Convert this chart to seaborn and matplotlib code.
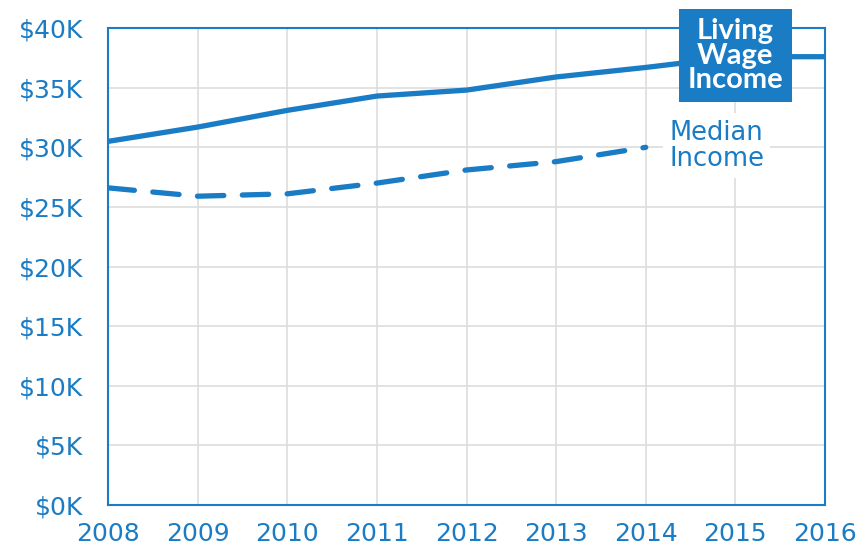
import matplotlib
matplotlib.use("Agg")
import matplotlib.pyplot as plt
import seaborn as sns
import pandas as pd

# data
years = [2008, 2009, 2010, 2011, 2012, 2013, 2014, 2015, 2016]
living_wage = [30.5, 31.7, 33.1, 34.3, 34.8, 35.9, 36.7, 37.6, 37.6]
median_years = [2008, 2009, 2010, 2011, 2012, 2013, 2014]
median_income = [26.6, 25.9, 26.1, 27.0, 28.1, 28.8, 30.0]
y_ticks = [0, 5, 10, 15, 20, 25, 30, 35, 40]

BLUE = "#1a7cc4"

sns.set_theme(style="white")
plt.rcParams["font.family"] = ["DejaVu Sans"]

fig = plt.figure(figsize=(8.58, 5.51), dpi=100)
ax = fig.add_axes([0.126, 0.0835, 0.8355, 0.8655])

lw_df = pd.DataFrame({"year": years, "value": living_wage})
med_df = pd.DataFrame({"year": median_years, "value": median_income})

sns.lineplot(data=lw_df, x="year", y="value", ax=ax, color=BLUE,
             linewidth=3.8, solid_capstyle="round")
sns.lineplot(data=med_df, x="year", y="value", ax=ax, color=BLUE,
             linewidth=3.8, dashes=False)
ax.lines[-1].set_linestyle((0, (5, 3.5)))
ax.lines[-1].set_dash_capstyle("round")

ax.set_xlim(2008, 2016)
ax.set_ylim(0, 40)
ax.set_xticks(years)
ax.set_yticks(y_ticks)
ax.set_yticklabels([f"${v}K" for v in y_ticks])
ax.set_xlabel("")
ax.set_ylabel("")
ax.grid(True, color="#dddddd", linewidth=1.2)
ax.tick_params(colors=BLUE, labelsize=18, length=0)
ax.tick_params(axis="y", pad=18)
ax.tick_params(axis="x", pad=12)
for s in ax.spines.values():
    s.set_color(BLUE)
    s.set_linewidth(1.5)

ax.text(2015, 37.7, "Living\nWage\nIncome", color="white", fontsize=21,
        family="Lato", fontweight="bold", ha="center", va="center",
        linespacing=0.95, zorder=5, clip_on=False,
        bbox=dict(boxstyle="square,pad=0.3", fc=BLUE, ec="none"))
ax.text(2014.79, 30.15, "Median\nIncome", color=BLUE, fontsize=18.5,
        ha="center", va="center", linespacing=1.0,
        zorder=5, bbox=dict(boxstyle="square,pad=0.25", fc="white", ec="none"))

fig.savefig("out.png", dpi=100)
